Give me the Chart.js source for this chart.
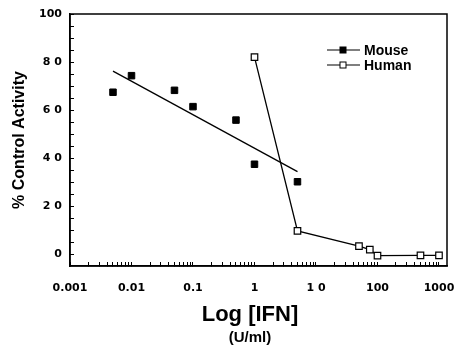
<!DOCTYPE html>
<html lang="en">

<head>
    <meta charset="UTF-8">
    <title>IFN Control Activity</title>
    <script src="https://cdn.jsdelivr.net/npm/chart.js"></script>
    <style>
        body { margin: 0; background: #fff; }
        #wrap { width: 455px; height: 347px; }
    </style>
</head>

<body>
    <div id="wrap">
        <canvas id="ifnChart" width="455" height="347"></canvas>
    </div>
    <script>
        // Datos
        const mouseDoses = [0.005, 0.01, 0.05, 0.1, 0.5, 1, 5];
        const mouseActivity = [67.4, 74.3, 68.2, 61.4, 55.8, 37.4, 30.1];
        const mouseFitDoses = [0.005, 5];
        const mouseFitActivity = [76.2, 34.3];
        const humanDoses = [1, 5, 50, 75, 100, 500, 1000];
        const humanActivity = [82, 9.6, 3.3, 1.8, -0.7, -0.6, -0.6];

        // Etiquetas de los ejes
        const xDecades = [0.001, 0.01, 0.1, 1, 10, 100, 1000];
        const xTickLabels = ['0.001', '0.01', '0.1', '1', '1 0', '100', '1000'];
        const yTickValues = [0, 20, 40, 60, 80, 100];
        const yTickLabels = ['0', '2 0', '4 0', '6 0', '8 0', '100'];

        const titleFont = '"Liberation Sans", Arial, sans-serif';
        const tickFont = { family: '"DejaVu Sans", sans-serif', weight: 'bold', size: 11 };

        function toPoints(xs, ys) {
            return xs.map((x, i) => ({ x: x, y: ys[i] }));
        }

        // Marco, titulo del eje x y leyenda
        const extrasPlugin = {
            id: 'extras',
            afterDraw(chart) {
                const ctx = chart.ctx;
                const area = chart.chartArea;
                ctx.save();
                ctx.strokeStyle = '#000';
                ctx.lineWidth = 1.5;
                ctx.strokeRect(area.left, area.top, area.right - area.left, area.bottom - area.top);

                ctx.fillStyle = '#000';
                ctx.textAlign = 'center';
                ctx.textBaseline = 'alphabetic';
                ctx.font = 'bold 22px ' + titleFont;
                ctx.fillText('Log [IFN]', 250, 321);
                ctx.font = 'bold 15px ' + titleFont;
                ctx.fillText('(U/ml)', 250, 342);

                // leyenda
                const items = [
                    { label: 'Mouse', y: 50, fill: '#000' },
                    { label: 'Human', y: 65, fill: '#fff' }
                ];
                ctx.font = 'bold 14px ' + titleFont;
                ctx.textAlign = 'left';
                items.forEach(item => {
                    ctx.lineWidth = 1.2;
                    ctx.beginPath();
                    ctx.moveTo(327, item.y);
                    ctx.lineTo(360, item.y);
                    ctx.stroke();
                    ctx.fillStyle = item.fill;
                    ctx.fillRect(340, item.y - 3, 6, 6);
                    ctx.lineWidth = 1;
                    ctx.strokeRect(340, item.y - 3, 6, 6);
                    ctx.fillStyle = '#000';
                    ctx.fillText(item.label, 364, item.y + 5);
                });
                ctx.restore();
            }
        };

        const chart = new Chart(document.getElementById('ifnChart'), {
            type: 'line',
            data: {
                datasets: [
                    {
                        label: 'Mouse',
                        data: toPoints(mouseDoses, mouseActivity),
                        showLine: false,
                        pointStyle: 'rect',
                        pointRadius: 4.6,
                        backgroundColor: '#000',
                        borderColor: '#000'
                    },
                    {
                        label: 'Mouse fit',
                        data: toPoints(mouseFitDoses, mouseFitActivity),
                        borderColor: '#000',
                        borderWidth: 1.3,
                        pointRadius: 0,
                        tension: 0
                    },
                    {
                        label: 'Human',
                        data: toPoints(humanDoses, humanActivity),
                        borderColor: '#000',
                        borderWidth: 1.3,
                        tension: 0,
                        pointStyle: 'rect',
                        pointRadius: 4.6,
                        pointBorderWidth: 1.2,
                        pointBackgroundColor: '#fff',
                        pointBorderColor: '#000'
                    }
                ]
            },
            options: {
                responsive: false,
                animation: false,
                layout: { padding: { top: 14, right: 8, left: 0, bottom: 0 } },
                plugins: {
                    legend: { display: false },
                    tooltip: { enabled: false }
                },
                scales: {
                    x: {
                        type: 'logarithmic',
                        min: 0.001,
                        max: 1350,
                        afterBuildTicks: scale => {
                            const ticks = [];
                            xDecades.forEach((d, i) => {
                                ticks.push({ value: d });
                                if (i < xDecades.length - 1) {
                                    for (let m = 2; m <= 9; m++) ticks.push({ value: m * d });
                                }
                            });
                            scale.ticks = ticks;
                        },
                        afterFit: scale => {
                            scale.height = 81;
                            scale.paddingLeft = 0;
                            scale.paddingRight = 0;
                        },
                        grid: { drawOnChartArea: false, drawTicks: true, tickLength: -4, color: '#000' },
                        border: { color: '#000', width: 1.5 },
                        ticks: {
                            autoSkip: false,
                            maxRotation: 0,
                            minRotation: 0,
                            padding: 20,
                            color: '#000',
                            font: tickFont,
                            callback: value => {
                                const i = xDecades.findIndex(d => Math.abs(d - value) / d < 1e-6);
                                return i >= 0 ? xTickLabels[i] : '';
                            }
                        }
                    },
                    y: {
                        min: -5,
                        max: 100,
                        afterBuildTicks: scale => {
                            const ticks = [];
                            for (let v = 0; v <= 100; v += 5) ticks.push({ value: v });
                            scale.ticks = ticks;
                        },
                        afterFit: scale => {
                            scale.width = 70;
                            scale.paddingTop = 0;
                            scale.paddingBottom = 0;
                        },
                        grid: { drawOnChartArea: false, drawTicks: true, tickLength: -4, color: '#000' },
                        border: { color: '#000', width: 1.5 },
                        title: {
                            display: true,
                            text: '% Control Activity',
                            color: '#000',
                            padding: { top: 10, bottom: 0 },
                            font: { family: titleFont, weight: 'bold', size: 16 }
                        },
                        ticks: {
                            autoSkip: false,
                            padding: 12,
                            color: '#000',
                            font: tickFont,
                            callback: value => {
                                const i = yTickValues.indexOf(value);
                                return i >= 0 ? yTickLabels[i] : '';
                            }
                        }
                    }
                }
            },
            plugins: [extrasPlugin]
        });
    </script>
</body>

</html>
